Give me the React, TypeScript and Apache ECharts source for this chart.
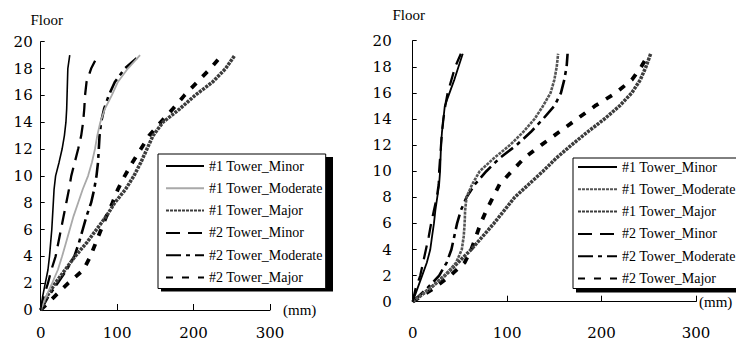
import React, { useEffect, useRef } from "react";
import * as echarts from "echarts";

const FLOORS = [0, 1, 2, 3, 4, 5, 6, 7, 8, 9, 10, 11, 12, 13, 14, 15, 16, 17, 18, 19];
const X_TICKS = [0, 100, 200, 300];
const NAMES = ["#1 Tower_Minor", "#1 Tower_Moderate", "#1 Tower_Major", "#2 Tower_Minor", "#2 Tower_Moderate", "#2 Tower_Major"];

// Left chart: displacement (mm) per floor
const L_T1_MINOR = [0, 2.5, 6, 9.5, 11.5, 13, 14.5, 15.5, 16.5, 17.5, 19.5, 24, 28, 31, 33, 34, 34.5, 35, 35.5, 38];
const L_T1_MOD = [0, 7, 15, 22.5, 28, 33, 38, 43, 49, 55, 62, 67, 71, 74, 78, 84, 93, 101, 114, 130];
const L_T1_MAJ = [0, 8, 19, 32, 45, 60, 73, 86, 97, 111, 122, 131, 139, 147, 160, 182, 202, 225, 242, 254];
const L_T2_MINOR = [0, 4, 9.5, 14, 19.5, 23, 26.5, 30, 33.5, 37, 40, 44.5, 49, 53, 55.5, 57, 58, 60, 66, 75];
const L_T2_MOD = [0, 10, 22, 34, 44, 50, 55, 60, 66, 70, 73, 75, 76, 77, 79, 83, 89, 97, 110, 130];
const L_T2_MAJ = [0, 18, 36, 56, 65, 72, 79, 86, 94, 101, 110, 120, 131, 142, 157, 173, 188, 205, 222, 237];

// Right chart
const R_T1_MINOR = [0, 5, 10, 15, 18.6, 20.5, 22.5, 24, 26, 28, 29, 29.5, 30, 31, 32.5, 34, 39, 44, 48.5, 53];
const R_T1_MOD = [0, 18, 34, 46, 52, 54, 55, 55.5, 57, 63, 71, 86, 103, 117, 129, 138, 146, 150, 152.5, 154];
const R_T1_MAJ = [0, 18, 34, 48, 62, 74, 86, 97, 108, 123, 138, 152, 168, 185, 203, 219, 232, 241, 247, 252];
const R_T2_MINOR = [0, 3, 8, 11, 14, 17, 19.5, 22.5, 25.5, 27.5, 28, 29, 30, 31, 32.5, 34.5, 37, 41, 45, 51];
const R_T2_MOD = [0, 15, 28, 36, 41, 44, 47, 51, 57, 66, 78, 92, 110, 125, 138, 150, 157, 160.5, 163, 164];
const R_T2_MAJ = [0, 22, 40, 55, 62, 67, 72, 78, 85, 92, 105, 118, 136, 155, 174, 193, 215, 232, 242, 250];

const pairs = (xs: number[]) => xs.map((x, i) => [x, FLOORS[i]]);

const SERIF = "Liberation Serif";
const NUM_FONT = "DejaVu Serif";

type Sty = { color: string; width: number; type: any };

const L_STYLES: Sty[] = [
  { color: "#000", width: 1.6, type: "solid" },
  { color: "#a9a9a9", width: 1.8, type: "solid" },
  { color: "#3c3c3c", width: 3.5, type: [3, 1] },
  { color: "#000", width: 2.3, type: [14, 8] },
  { color: "#000", width: 2.6, type: [15, 5, 4, 5] },
  { color: "#000", width: 3.8, type: [7, 9] },
];
const R_STYLES: Sty[] = [
  { color: "#000", width: 1.8, type: "solid" },
  { color: "#555", width: 2.6, type: [3, 1] },
  { color: "#3c3c3c", width: 3.5, type: [3, 1] },
  { color: "#000", width: 2.3, type: [14, 8] },
  { color: "#000", width: 2.6, type: [15, 5, 4, 5] },
  { color: "#000", width: 3.8, type: [7, 9] },
];

export default function App() {
  const ref = useRef<HTMLDivElement>(null);
  useEffect(() => {
    document.body.style.margin = "0";
    if (!ref.current) return;
    const chart = echarts.init(ref.current, undefined, { renderer: "svg" });
    const leftData = [L_T1_MINOR, L_T1_MOD, L_T1_MAJ, L_T2_MINOR, L_T2_MOD, L_T2_MAJ];
    const rightData = [R_T1_MINOR, R_T1_MOD, R_T1_MAJ, R_T2_MINOR, R_T2_MOD, R_T2_MAJ];

    const mkSeries = (prefix: string, idx: number, data: number[][], styles: Sty[]) =>
      data.map((d, i) => ({
        type: "line",
        name: prefix + NAMES[i],
        xAxisIndex: idx,
        yAxisIndex: idx,
        data: pairs(d),
        symbol: "none",
        smooth: false,
        lineStyle: { color: styles[i].color, width: styles[i].width, type: styles[i].type, cap: "butt" },
        itemStyle: { color: styles[i].color },
        z: 2 + (5 - i),
      }));

    const xAxisBase = (labelMargin: number, nameGap: number, gridIndex: number) => ({
      type: "value",
      gridIndex,
      min: X_TICKS[0],
      max: X_TICKS[X_TICKS.length - 1],
      interval: 100,
      axisLine: { show: true, lineStyle: { color: "#000", width: 1 } },
      axisTick: { show: true, inside: true, length: 6, lineStyle: { color: "#000" } },
      splitLine: { show: false },
      axisLabel: { margin: labelMargin, fontFamily: NUM_FONT, fontSize: 15, color: "#000" },
      name: "(mm)",
      nameLocation: "end",
      nameGap,
      nameTextStyle: { fontFamily: SERIF, fontSize: 15, color: "#000", verticalAlign: "middle", padding: [5, 0, 0, 0] },
    });
    const yAxisBase = (labelMargin: number, nameGap: number, gridIndex: number, namePad: number[]) => ({
      type: "value",
      gridIndex,
      min: 0,
      max: 20,
      interval: 2,
      axisLine: { show: true, lineStyle: { color: "#000", width: 1 } },
      axisTick: { show: true, inside: true, length: 4, lineStyle: { color: "#000" } },
      splitLine: { show: false },
      axisLabel: { margin: labelMargin, fontFamily: NUM_FONT, fontSize: 15, color: "#000" },
      name: "Floor",
      nameLocation: "end",
      nameGap,
      nameTextStyle: { fontFamily: SERIF, fontSize: 15, color: "#000", padding: namePad },
    });

    const legendBase = {
      orient: "vertical",
      itemGap: 8.3,
      itemHeight: 14,
      backgroundColor: "#fff",
      borderColor: "#000",
      borderWidth: 1,
      borderRadius: 0,
      selectedMode: false,
      itemStyle: { opacity: 0 },
      textStyle: { fontFamily: SERIF, fontSize: 14, color: "#000" },
      formatter: (n: string) => n.slice(1),
      z: 10,
    };

    chart.setOption({
      animation: false,
      backgroundColor: "#fff",
      grid: [
        { left: 40.7, top: 41.7, width: 229.3, height: 268.3 },
        { left: 412.7, top: 40.7, width: 283.3, height: 261 },
      ],
      xAxis: [xAxisBase(15.5, 13, 0), xAxisBase(24, 3, 1)],
      yAxis: [yAxisBase(8, 14, 0, [0, 0, 0, 12]), yAxisBase(21, 18, 1, [0, 8, 0, 0])],
      legend: [
        { ...legendBase, left: 158, top: 154, itemWidth: 38, padding: [5, 3, 4, 7], data: NAMES.map((n) => "L" + n) },
        { ...legendBase, left: 573, top: 158, itemWidth: 39, padding: [2, 6, 3, 4], data: NAMES.map((n) => "R" + n) },
      ],
      graphic: [
        { type: "rect", z: 9, shape: { x: 161, y: 157, width: 172, height: 134.5 }, style: { fill: "#000" } },
        { type: "rect", z: 9, shape: { x: 576, y: 161, width: 170, height: 131.5 }, style: { fill: "#000" } },
      ],
      series: [...mkSeries("L", 0, leftData, L_STYLES), ...mkSeries("R", 1, rightData, R_STYLES)],
    });
    return () => chart.dispose();
  }, []);
  return <div ref={ref} style={{ width: 736, height: 343 }} />;
}
